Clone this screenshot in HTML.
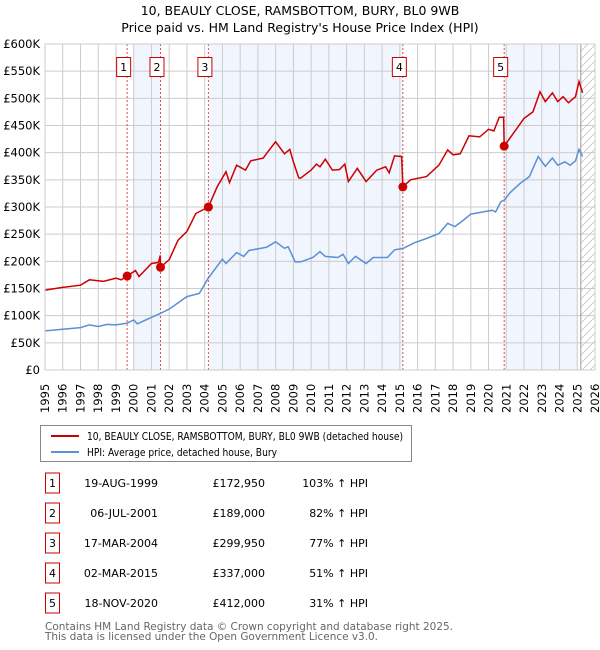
<!DOCTYPE html>
<html><head><meta charset="utf-8"><style>
body{margin:0;background:#fff;}
svg{display:block;font-family:"DejaVu Sans","Liberation Sans",sans-serif;}
</style></head><body>
<svg id="chart" width="600" height="650" viewBox="0 0 600 650">
<text x="300" y="15" text-anchor="middle" font-size="12.5" fill="#000">10, BEAULY CLOSE, RAMSBOTTOM, BURY, BL0 9WB</text>
<text x="300" y="32" text-anchor="middle" font-size="12.5" fill="#000">Price paid vs. HM Land Registry's House Price Index (HPI)</text>
<g id="plot"></g>
<g>
<rect x="40.5" y="425.5" width="371" height="36" fill="#fff" stroke="#888"/>
<line x1="51" y1="436" x2="79" y2="436" stroke="#cc0000" stroke-width="2"/>
<text x="87" y="440" font-size="11" textLength="316" lengthAdjust="spacingAndGlyphs">10, BEAULY CLOSE, RAMSBOTTOM, BURY, BL0 9WB (detached house)</text>
<line x1="51" y1="452" x2="79" y2="452" stroke="#5b8fd6" stroke-width="2"/>
<text x="87" y="456" font-size="11" textLength="190" lengthAdjust="spacingAndGlyphs">HPI: Average price, detached house, Bury</text>
</g>
<g id="table" font-size="11"></g>
<text x="45" y="630" font-size="11" fill="#666" textLength="408" lengthAdjust="spacingAndGlyphs">Contains HM Land Registry data © Crown copyright and database right 2025.</text>
<text x="45" y="640" font-size="11" fill="#666" textLength="333" lengthAdjust="spacingAndGlyphs">This data is licensed under the Open Government Licence v3.0.</text>
</svg>
<script>
const hpiYears=[1995,1996,1997,1997.5,1998,1998.5,1999,1999.6,2000,2000.2,2001,2001.5,2002,2003,2003.7,2004.2,2005,2005.2,2005.8,2006.2,2006.5,2007.5,2008,2008.5,2008.7,2009.1,2009.4,2010.1,2010.5,2010.8,2011.5,2011.8,2012.1,2012.5,2013.1,2013.5,2014.3,2014.7,2015.2,2015.8,2016.5,2017.2,2017.7,2018.1,2018.6,2019,2019.7,2020.2,2020.4,2020.7,2020.9,2021.2,2021.8,2022.3,2022.8,2023.2,2023.6,2023.9,2024.3,2024.6,2024.9,2025.1,2025.3];
const hpiValues=[72,75,78,83,80,84,83,86,92,85,97,104,112,135,141,169,204,196,216,209,220,226,236,224,227,199,199,207,218,209,207,213,196,209,196,207,207,221,224,234,242,251,270,264,276,287,291,294,291,310,313,326,344,356,393,375,390,377,383,377,385,406,393];
const propYears=[1995,1996,1997,1997.5,1998.3,1999,1999.3,1999.63,2000.1,2000.3,2001,2001.4,2001.5,2001.51,2002,2002.5,2003,2003.5,2004.21,2004.7,2005.2,2005.4,2005.8,2006.3,2006.6,2007.3,2007.5,2008,2008.5,2008.8,2009,2009.3,2009.4,2010,2010.3,2010.5,2010.8,2011.2,2011.6,2011.9,2012.1,2012.6,2013.1,2013.7,2014.2,2014.4,2014.7,2015.1,2015.17,2015.6,2016.5,2017.2,2017.7,2018,2018.4,2018.9,2019.5,2020,2020.3,2020.6,2020.85,2020.88,2021.3,2021.8,2022,2022.5,2022.9,2023.2,2023.6,2023.9,2024.2,2024.5,2024.9,2025.1,2025.3];
const propValues=[147,152,156,166,163,169,166,173,183,172,196,198,211,189,203,239,255,288,300,337,365,345,377,368,385,390,399,420,398,406,383,354,353,368,379,374,388,368,369,379,347,371,347,368,374,363,394,393,337,350,356,377,405,396,398,431,429,443,440,465,465,412,431,454,463,475,512,494,510,494,503,492,503,531,510];
const saleLabels=["1","2","3","4","5"];
const saleYears=[1999.63,2001.51,2004.21,2015.17,2020.88];
const saleValues=[172.95,189,299.95,337,412];
const saleDates=["19-AUG-1999","06-JUL-2001","17-MAR-2004","02-MAR-2015","18-NOV-2020"];
const salePrices=["£172,950","£189,000","£299,950","£337,000","£412,000"];
const salePct=["103% ↑ HPI","82% ↑ HPI","77% ↑ HPI","51% ↑ HPI","31% ↑ HPI"];
const yTicks=[0,50,100,150,200,250,300,350,400,450,500,550,600];
const yTickLabels=["£0","£50K","£100K","£150K","£200K","£250K","£300K","£350K","£400K","£450K","£500K","£550K","£600K"];
const xTicks=[1995,1996,1997,1998,1999,2000,2001,2002,2003,2004,2005,2006,2007,2008,2009,2010,2011,2012,2013,2014,2015,2016,2017,2018,2019,2020,2021,2022,2023,2024,2025,2026];

const NS="http://www.w3.org/2000/svg";
const X0=45,X1=595,Y0=370,Y1=44;
const xs=y=>X0+(y-1995)/(2026-1995)*(X1-X0);
const ys=v=>Y0-v/600*(Y0-Y1);
const plot=document.getElementById('plot');
function mk(tag,attrs,parent){const e=document.createElementNS(NS,tag);for(const k in attrs)e.setAttribute(k,attrs[k]);(parent||plot).appendChild(e);return e;}

const bands=[[2000,saleYears[1]],[saleYears[2],saleYears[3]],[saleYears[4],2025.0]];
bands.forEach((b,i)=>{const r=mk('rect',{x:xs(b[0]),y:Y1,width:xs(b[1])-xs(b[0]),height:Y0-Y1,fill:'#eef3fc',opacity:0.8});

});
const defs=mk('defs',{});
const pat=mk('pattern',{id:'hatch',width:8,height:8,patternUnits:'userSpaceOnUse'},defs);
mk('path',{d:'M0,8 L8,0',stroke:'#bbb','stroke-width':0.7},pat);
const hr=mk('rect',{x:xs(2025.2),y:Y1,width:X1-xs(2025.2),height:Y0-Y1,fill:'url(#hatch)'});


yTicks.forEach((v,i)=>{const l=mk('line',{x1:X0,x2:X1,y1:ys(v),y2:ys(v),stroke:'#ccc','stroke-width':1});


const t=mk('text',{x:X0-5,y:ys(v)+4,'text-anchor':'end','font-size':11.5});t.textContent=yTickLabels[i];

});
xTicks.forEach(yr=>{const l=mk('line',{x1:xs(yr),x2:xs(yr),y1:Y1,y2:Y0,stroke:'#ccc','stroke-width':1});


const t=mk('text',{transform:`translate(${xs(yr)+4},${Y0+43}) rotate(-90)`,'font-size':11.5});t.textContent=yr;

});
const nowL=mk('line',{x1:xs(2025.2),x2:xs(2025.2),y1:Y1,y2:Y0,stroke:'#999','stroke-width':1});


saleYears.forEach((yr,i)=>{const l=mk('line',{x1:xs(yr),x2:xs(yr),y1:Y1,y2:Y0,stroke:'#e05050','stroke-width':1,'stroke-dasharray':'2,2'});

});
function path(xa,va){return xa.map((x,i)=>(i?'L':'M')+xs(x).toFixed(1)+','+ys(va[i]).toFixed(1)).join(' ');}
const hp=mk('path',{d:path(hpiYears,hpiValues),fill:'none',stroke:'#5b8fd6','stroke-width':1.5});


const pp=mk('path',{d:path(propYears,propValues),fill:'none',stroke:'#cc0000','stroke-width':1.5});


saleYears.forEach((yr,i)=>{const c=mk('circle',{cx:xs(yr),cy:ys(saleValues[i]),r:4.5,fill:'#cc0000'});


const bx=xs(yr)-3.5-7;
const r=mk('rect',{x:bx,y:57.5,width:14,height:19,fill:'#fff',stroke:'#cc0000','stroke-width':1});


const t=mk('text',{x:bx+7,y:71,'text-anchor':'middle','font-size':11});t.textContent=saleLabels[i];

});
const ax=mk('rect',{x:X0,y:Y1,width:X1-X0,height:Y0-Y1,fill:'none',stroke:'#ccc'});



const tb=document.getElementById('table');
saleLabels.forEach((lab,i)=>{const cy=483+i*30;
const r=mk('rect',{x:45.5,y:cy-10,width:14,height:20,fill:'#fff',stroke:'#cc0000'},tb);


const cells=[[52.5,'middle',lab,'table-index'],[158,'end',saleDates[i],'table-date'],[265,'end',salePrices[i],'table-price'],[368,'end',salePct[i],'table-hpi-change']];
cells.forEach(c=>{const t=mk('text',{x:c[0],y:cy+4,'text-anchor':c[1]},tb);t.textContent=c[2];

});});
</script>
</body></html>
